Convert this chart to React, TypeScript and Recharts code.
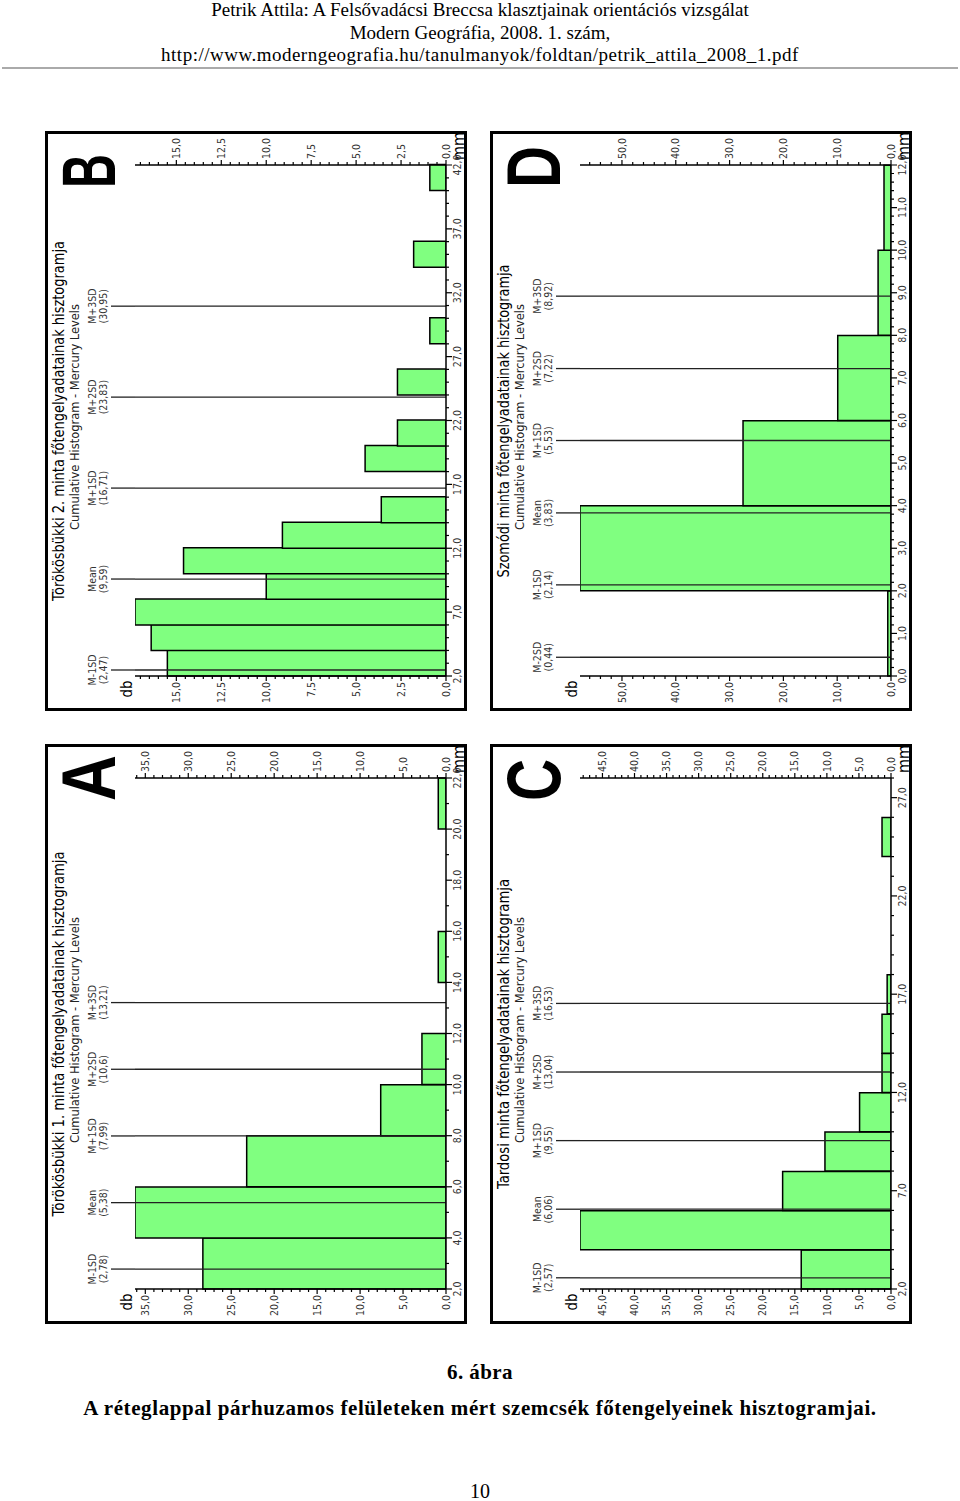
import React from 'react'
import { ComposedChart, Bar, XAxis, YAxis, ReferenceLine } from 'recharts'

// A – Törökösbükki 1. minta (bins of 2 mm, values in %)
const aBins = [2, 4, 6, 8, 10, 12, 14, 16, 18, 20]
const aValues = [28.3, 36.2, 23.2, 7.6, 2.8, 0, 0.9, 0, 0, 0.9]
const aMmLabels = [2, 4, 6, 8, 10, 12, 14, 16, 18, 20, 22]
const aDbLabels = [0, 5, 10, 15, 20, 25, 30, 35]
const aStatNames = ['M-1SD', 'Mean', 'M+1SD', 'M+2SD', 'M+3SD']
const aStatValues = [2.78, 5.38, 7.99, 10.6, 13.21]

// B – Törökösbükki 2. minta
const bBins = [2, 4, 6, 8, 10, 12, 14, 16, 18, 20, 22, 24, 26, 28, 30, 32, 34, 36, 38, 40]
const bValues = [15.5, 16.4, 17.3, 10.0, 14.6, 9.1, 3.6, 0, 4.5, 2.7, 0, 2.7, 0, 0.9, 0, 0, 1.8, 0, 0, 0.9]
const bMmLabels = [2, 7, 12, 17, 22, 27, 32, 37, 42]
const bDbLabels = [0, 2.5, 5, 7.5, 10, 12.5, 15]
const bStatNames = ['M-1SD', 'Mean', 'M+1SD', 'M+2SD', 'M+3SD']
const bStatValues = [2.47, 9.59, 16.71, 23.83, 30.95]

// C – Tardosi minta
const cBins = [2, 4, 6, 8, 10, 12, 14, 16, 18, 20, 22, 24, 26]
const cValues = [14.0, 48.5, 16.9, 10.3, 4.9, 1.4, 1.4, 0.6, 0, 0, 0, 1.4, 0]
const cMmLabels = [2, 7, 12, 17, 22, 27]
const cDbLabels = [0, 5, 10, 15, 20, 25, 30, 35, 40, 45]
const cStatNames = ['M-1SD', 'Mean', 'M+1SD', 'M+2SD', 'M+3SD']
const cStatValues = [2.57, 6.06, 9.55, 13.04, 16.53]

// D – Szomódi minta
const dBins = [0, 2, 4, 6, 8, 10]
const dValues = [0.6, 57.8, 27.5, 9.9, 2.4, 1.3]
const dMmLabels = [0, 1, 2, 3, 4, 5, 6, 7, 8, 9, 10, 11, 12]
const dDbLabels = [0, 10, 20, 30, 40, 50]
const dStatNames = ['M-2SD', 'M-1SD', 'Mean', 'M+1SD', 'M+2SD', 'M+3SD']
const dStatValues = [0.44, 2.14, 3.83, 5.53, 7.22, 8.92]

const SANS = "'Liberation Sans Narrow', 'Arial Narrow', 'DejaVu Sans Condensed', 'Liberation Sans', Arial, sans-serif"
const SANS_BOLD = "'Liberation Sans', Arial, sans-serif"
const SERIF = "'Liberation Serif', 'Times New Roman', serif"

// unrotated panel size (the panels are turned 90° on the page)
const W = 580
const H = 422

const fmt = (v: number) => v.toFixed(1).replace('.', ',')
const isMajor = (v: number, majors: number[]) => majors.some((m) => Math.abs(m - v) < 1e-6)

function stepTicks(from: number, to: number, step: number) {
  const out: number[] = []
  for (let i = 0; from + i * step <= to + 1e-9; i++) out.push(Math.round((from + i * step) * 1000) / 1000)
  return out
}

function MmTick(props: any) {
  const { x, y, payload, majors } = props
  const major = isMajor(payload.value, majors)
  return (
    <g>
      <line x1={x} x2={x} y1={y} y2={y + (major ? 6 : 3)} stroke="#000" strokeWidth={1.2} />
      {major && (
        <text x={x} y={y + 15} textAnchor="middle" fontSize={10.5} fontFamily={SANS} fill="#333">
          {fmt(payload.value)}
        </text>
      )}
    </g>
  )
}

function DbTick(props: any) {
  const { x, y, payload, majors, side } = props
  const major = isMajor(payload.value, majors)
  const s = side === 'left' ? -1 : 1
  return (
    <g>
      <line x1={x} x2={x + s * (major ? 5 : 3)} y1={y} y2={y} stroke="#000" strokeWidth={1.2} />
      {major && (
        <text
          x={x + s * 6}
          y={y}
          dy="0.35em"
          textAnchor={side === 'left' ? 'end' : 'start'}
          fontSize={10.5}
          fontFamily={SANS}
          fill="#333"
        >
          {fmt(payload.value)}
        </text>
      )}
    </g>
  )
}

function StatLabel({ viewBox, name, value }: any) {
  const { x, y } = viewBox
  return (
    <g>
      <line x1={x} x2={x} y1={y - 24} y2={y} stroke="#222" strokeWidth={1.3} />
      <text x={x} y={y - 39} textAnchor="middle" fontSize={10.5} fontFamily={SANS} fill="#333">
        {name}
      </text>
      <text x={x} y={y - 28} textAnchor="middle" fontSize={10.5} fontFamily={SANS} fill="#333">
        ({String(value).replace('.', ',')})
      </text>
    </g>
  )
}

interface PanelProps {
  left: number
  top: number
  letter: string
  letterLen: number
  title: string
  titleLen: number
  bins: number[]
  values: number[]
  mmDomain: [number, number]
  mmLabels: number[]
  mmMinor: number
  dbLabels: number[]
  dbMinor: number
  statNames: string[]
  statValues: number[]
}

function HistPanel(p: PanelProps) {
  const binWidth = p.bins[1] - p.bins[0]
  const data = p.bins.map((lo, i) => ({ bin: lo, mid: lo + binWidth / 2, pct: p.values[i] }))
  const yMax = Math.max(...p.values)
  const mmTicks = stepTicks(p.mmDomain[0], p.mmDomain[1], p.mmMinor)
  const dbTicks = stepTicks(0, yMax, p.dbMinor)

  return (
    <div style={{ position: 'absolute', left: p.left, top: p.top, width: H, height: W }}>
      <div
        style={{
          position: 'absolute',
          left: (H - W) / 2,
          top: (W - H) / 2,
          width: W,
          height: H,
          transform: 'rotate(-90deg)',
        }}
      >
        <div style={{ position: 'absolute', left: 0, top: 0 }}>
          <ComposedChart
            width={W}
            height={H}
            data={data}
            margin={{ top: 90, right: 0, bottom: 0, left: 0 }}
            barCategoryGap={0}
            barGap={0}
          >
            <XAxis
              xAxisId="mm"
              dataKey="mid"
              type="number"
              domain={p.mmDomain}
              allowDataOverflow
              ticks={mmTicks}
              interval={0}
              height={21}
              tickLine={false}
              tickSize={0}
              tickMargin={0}
              axisLine={{ stroke: '#000', strokeWidth: 1.5 }}
              tick={<MmTick majors={p.mmLabels} />}
              label={{
                content: (lp: any) => (
                  <text
                    x={lp.viewBox.x + lp.viewBox.width + 5}
                    y={lp.viewBox.y + 18}
                    fontSize={16}
                    fontFamily={SANS}
                    fill="#000"
                  >
                    mm
                  </text>
                ),
              }}
            />
            <XAxis xAxisId="bin" dataKey="bin" type="category" hide height={0} />
            <YAxis
              yAxisId="l"
              domain={[0, yMax]}
              allowDataOverflow
              ticks={dbTicks}
              interval={0}
              width={35}
              tickLine={false}
              tickSize={0}
              tickMargin={0}
              axisLine={{ stroke: '#000', strokeWidth: 1.5 }}
              tick={<DbTick side="left" majors={p.dbLabels} />}
              label={{
                content: (lp: any) => (
                  <text x={22} y={lp.viewBox.y - 3} textAnchor="middle" fontSize={15} fontFamily={SANS} fill="#000">
                    db
                  </text>
                ),
              }}
            />
            <YAxis
              yAxisId="r"
              orientation="right"
              domain={[0, yMax]}
              allowDataOverflow
              ticks={dbTicks}
              interval={0}
              width={34}
              tickLine={false}
              tickSize={0}
              tickMargin={0}
              axisLine={{ stroke: '#000', strokeWidth: 1.5 }}
              tick={<DbTick side="right" majors={p.dbLabels} />}
            />
            <Bar
              xAxisId="bin"
              yAxisId="l"
              dataKey="pct"
              fill="#80ff80"
              stroke="#000"
              strokeWidth={1.5}
              isAnimationActive={false}
            />
            {p.statValues.map((v, i) => (
              <ReferenceLine
                key={i}
                xAxisId="mm"
                yAxisId="l"
                x={v}
                stroke="#222"
                strokeWidth={1.3}
                label={(lp: any) => <StatLabel viewBox={lp.viewBox} name={p.statNames[i]} value={v} />}
              />
            ))}
          </ComposedChart>
        </div>
        <svg width={W} height={H} style={{ position: 'absolute', left: 0, top: 0, pointerEvents: 'none' }}>
          <text
            x={W / 2}
            y={19}
            textAnchor="middle"
            fontSize={15.5}
            fontFamily={SANS}
            fill="#000"
            textLength={p.titleLen}
            lengthAdjust="spacingAndGlyphs"
          >
            {p.title}
          </text>
          <text
            x={W / 2 + 4}
            y={34}
            textAnchor="middle"
            fontSize={12.5}
            fontFamily={SANS}
            fill="#222"
            textLength={226}
            lengthAdjust="spacingAndGlyphs"
          >
            Cumulative Histogram - Mercury Levels
          </text>
          <text
            x={523}
            y={70}
            fontSize={76}
            fontWeight="bold"
            fontFamily={SANS_BOLD}
            fill="#000"
            textLength={p.letterLen}
            lengthAdjust="spacingAndGlyphs"
          >
            {p.letter}
          </text>
        </svg>
      </div>
      <div
        style={{
          position: 'absolute',
          left: 0,
          top: 0,
          width: H,
          height: W,
          boxSizing: 'border-box',
          border: '3px solid #000',
          pointerEvents: 'none',
        }}
      />
    </div>
  )
}

export default function App() {
  return (
    <div
      style={{
        position: 'absolute',
        left: 0,
        top: 0,
        width: 960,
        height: 1501,
        background: '#fff',
        fontFamily: SERIF,
        color: '#000',
        overflow: 'hidden',
      }}
    >
      <div style={{ position: 'absolute', top: -1, left: 0, width: 960, textAlign: 'center', fontSize: 19, lineHeight: '22.5px' }}>
        <div>Petrik Attila: A Felsővadácsi Breccsa klasztjainak orientációs vizsgálat</div>
        <div>Modern Geográfia, 2008. 1. szám,</div>
        <div style={{ letterSpacing: 0.5 }}>http://www.moderngeografia.hu/tanulmanyok/foldtan/petrik_attila_2008_1.pdf</div>
      </div>
      <div style={{ position: 'absolute', top: 67, left: 2, width: 956, height: 2, background: '#aaa' }} />

      <HistPanel
        left={45}
        top={131}
        letter="B"
        letterLen={34}
        title="Törökösbükki 2. minta főtengelyadatainak hisztogramja"
        titleLen={360}
        bins={bBins}
        values={bValues}
        mmDomain={[2, 42]}
        mmLabels={bMmLabels}
        mmMinor={1}
        dbLabels={bDbLabels}
        dbMinor={0.5}
        statNames={bStatNames}
        statValues={bStatValues}
      />
      <HistPanel
        left={490}
        top={131}
        letter="D"
        letterLen={42}
        title="Szomódi minta főtengelyadatainak hisztogramja"
        titleLen={313}
        bins={dBins}
        values={dValues}
        mmDomain={[0, 12]}
        mmLabels={dMmLabels}
        mmMinor={0.2}
        dbLabels={dDbLabels}
        dbMinor={2}
        statNames={dStatNames}
        statValues={dStatValues}
      />
      <HistPanel
        left={45}
        top={744}
        letter="A"
        letterLen={46}
        title="Törökösbükki 1. minta főtengelyadatainak hisztogramja"
        titleLen={365}
        bins={aBins}
        values={aValues}
        mmDomain={[2, 22]}
        mmLabels={aMmLabels}
        mmMinor={1}
        dbLabels={aDbLabels}
        dbMinor={1}
        statNames={aStatNames}
        statValues={aStatValues}
      />
      <HistPanel
        left={490}
        top={744}
        letter="C"
        letterLen={42}
        title="Tardosi minta főtengelyadatainak hisztogramja"
        titleLen={310}
        bins={cBins}
        values={cValues}
        mmDomain={[2, 28]}
        mmLabels={cMmLabels}
        mmMinor={1}
        dbLabels={cDbLabels}
        dbMinor={1}
        statNames={cStatNames}
        statValues={cStatValues}
      />

      <div style={{ position: 'absolute', top: 1360, left: 0, width: 960, textAlign: 'center', fontSize: 21, fontWeight: 'bold', lineHeight: '24px', letterSpacing: 0.4 }}>
        6. ábra
      </div>
      <div style={{ position: 'absolute', top: 1396, left: 0, width: 960, textAlign: 'center', fontSize: 21, fontWeight: 'bold', lineHeight: '24px', letterSpacing: 0.6 }}>
        A réteglappal párhuzamos felületeken mért szemcsék főtengelyeinek hisztogramjai.
      </div>
      <div style={{ position: 'absolute', top: 1479, left: 0, width: 960, textAlign: 'center', fontSize: 20, lineHeight: '24px' }}>
        10
      </div>
    </div>
  )
}
